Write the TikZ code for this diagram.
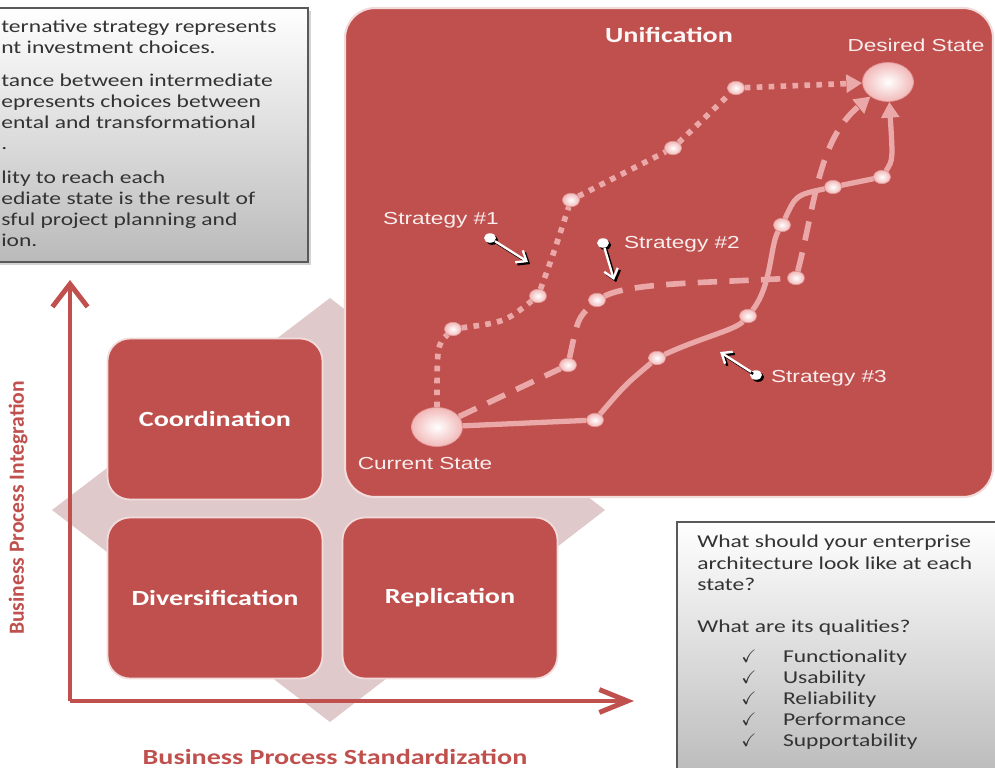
\documentclass[tikz,border=0pt]{standalone}
\usepackage{amssymb}
\usepackage{fontspec}
\setmainfont{Carlito}[FakeStretch=1.3]
\newfontfamily\arialfont{Liberation Sans}[FakeStretch=1.3]
\newfontfamily\sidefont{Carlito}
\usetikzlibrary{arrows.meta,positioning,shapes.geometric,shadows}
\definecolor{brick}{HTML}{C0504D}
\definecolor{rose}{HTML}{EAA9A8}
\definecolor{blush}{HTML}{F2B9B9}
\definecolor{haze}{HTML}{E0C9CA}
\definecolor{ink}{HTML}{333333}
\tikzset{
	quad/.style={draw=white!80!brick,line width=1pt,fill=brick,rounded corners=0.45cm,minimum width=4.3cm,minimum height=3.22cm,text=white,font=\bfseries\fontsize{12.3}{14}\selectfont},
	note/.style={draw=black!65,line width=0.8pt,top color=white,bottom color=black!27,drop shadow={shadow xshift=1.5pt,shadow yshift=-1.5pt,opacity=0.35}},
	notetext/.style={text=ink,align=left,inner sep=0pt,font=\fontsize{10.3}{12}\selectfont},
	goal/.style={ellipse,minimum width=1.02cm,minimum height=0.78cm,inner sep=0pt,inner color=white,outer color=blush,draw=blush!70!brick,line width=0.4pt},
	waypt/.style={ellipse,minimum width=0.34cm,minimum height=0.27cm,inner sep=0pt,inner color=white,outer color=blush,draw=blush!70!brick,line width=0.3pt},
	caption/.style={text=white!90!brick,inner sep=1pt,font=\arialfont\fontsize{9.9}{12}\selectfont},
	solidline/.style={rose,line width=3pt,-{Triangle[length=9pt,width=10pt]}},
	dotline/.style={solidline,line width=3.2pt,dash pattern=on 3.2pt off 3.6pt},
	dashline/.style={solidline,line width=3.2pt,dash pattern=on 11pt off 7pt},
	knob/.style={ellipse,fill=white,minimum width=0.24cm,minimum height=0.19cm,inner sep=0pt,drop shadow={shadow xshift=1.2pt,shadow yshift=-1.2pt,fill=black,opacity=1}},
	pointer/.style={white,line width=1.3pt,-{Straight Barb[length=5pt,width=8pt]}},
	axisline/.style={brick,line width=2.8pt}
}

\begin{document}
\begin{tikzpicture}[x=0.02cm,y=-0.02cm]
	\useasboundingbox (0,0) rectangle (995,768);
	\clip (0,0) rectangle (995,768);

	\fill[haze] (330,298) -- (605,510) -- (330,722) -- (52,510) -- cycle;
	\draw[fill=brick,draw=white!80!brick,line width=1.2pt,rounded corners=0.6cm] (345,8) rectangle (993,497);

	\node[quad] (coo) at (215,419) {Coordination};
	\node[quad] (div) at (215,598) {Diversification};
	\node[quad] (rep) at (450,598) {Replication};

	\coordinate (o) at (70,701);
	\coordinate (ytop) at (70,280);
	\coordinate (xend) at (634,701);
	\draw[axisline,-{Straight Barb[length=13pt,width=20pt]}] (o) -- (ytop);
	\draw[axisline,-{Straight Barb[length=16pt,width=13pt]}] (o) -- (xend);
	\node[text=brick,rotate=90,font=\sidefont\bfseries\fontsize{12.3}{14}\selectfont] (yl) at (18,508) {Business Process Integration};
	\node[text=brick,font=\bfseries\fontsize{12.3}{14}\selectfont] (xl) at (335,757) {Business Process Standardization};

	\path[note] (-10,8) rectangle (308,262);
	\node[notetext,anchor=north west] (why) at (1,20) {ternative strategy represents\\nt investment choices.\\[6.5pt]tance between intermediate\\epresents choices between\\ental and transformational\\.\\[7pt]lity to reach each\\ediate state is the result of\\sful project planning and\\ion.};

	\path[note] (677,522) rectangle (1005,780);
	\node[notetext,anchor=north west] (ask) at (697,535) {What should your enterprise\\architecture look like at each\\state?\\[12pt]What are its qualities?\\[5pt]%
		\makebox[48.8pt][l]{\hspace{25pt}$\checkmark$}Functionality\\
		\makebox[48.8pt][l]{\hspace{25pt}$\checkmark$}Usability\\
		\makebox[48.8pt][l]{\hspace{25pt}$\checkmark$}Reliability\\
		\makebox[48.8pt][l]{\hspace{25pt}$\checkmark$}Performance\\
		\makebox[48.8pt][l]{\hspace{25pt}$\checkmark$}Supportability};

	\node[text=white!95!brick,font=\bfseries\fontsize{12.3}{14}\selectfont] (uni) at (669,35) {Unification};
	\node[goal] (cur) at (437,427) {};
	\node[goal] (des) at (888,82) {};
	\node[caption] (curl) at (425,464) {Current State};
	\node[caption] (desl) at (916,45) {Desired State};

	\node[waypt] (a1) at (453,329) {};
	\node[waypt] (a2) at (538,296) {};
	\node[waypt] (a3) at (571,200) {};
	\node[waypt] (a4) at (673,148) {};
	\node[waypt] (a5) at (736,88) {};
	\node[waypt] (b1) at (568,365) {};
	\node[waypt] (b2) at (597,300) {};
	\node[waypt] (b3) at (796,278) {};
	\node[waypt] (c1) at (595,420) {};
	\node[waypt] (c2) at (657,358) {};
	\node[waypt] (c3) at (748,316) {};
	\node[waypt] (c4) at (782,225) {};
	\node[waypt] (c5) at (833,187) {};
	\node[waypt] (c6) at (882,177) {};

	\draw[dotline] (cur) .. controls (437,345) .. (a1) .. controls (505,322) .. (a2) .. controls (553,255) .. (a3) -- (a4) -- (a5) -- (des);
	\draw[dashline] (cur) -- (b1) .. controls (578,318) .. (b2) .. controls (630,283) and (700,283) .. (b3) .. controls (815,205) and (818,140) .. (des);
	\draw[solidline] (cur) -- (c1) .. controls (625,385) .. (c2) .. controls (700,338) and (735,330) .. (c3) .. controls (772,285) and (770,245) .. (c4) .. controls (796,195) .. (c5) -- (c6) .. controls (893,160) .. (des);

	\node[caption] (s1) at (441,220) {Strategy \#1};
	\node[caption,anchor=west] (s2) at (622,244) {Strategy \#2};
	\node[caption,anchor=west] (s3) at (769,378) {Strategy \#3};
	\node[knob] (k1) at (490,238) {};
	\node[knob] (k2) at (603,243) {};
	\node[knob] (k3) at (756,375) {};
	\coordinate (t1) at (528,262);
	\coordinate (t2) at (614,280);
	\coordinate (t3) at (720,352);
	\foreach \i in {1,2,3}{
		\draw[pointer,black,transform canvas={shift={(1.2pt,-1.2pt)}}] (k\i) -- (t\i);
		\draw[pointer] (k\i) -- (t\i);
	}
\end{tikzpicture}
\end{document}
